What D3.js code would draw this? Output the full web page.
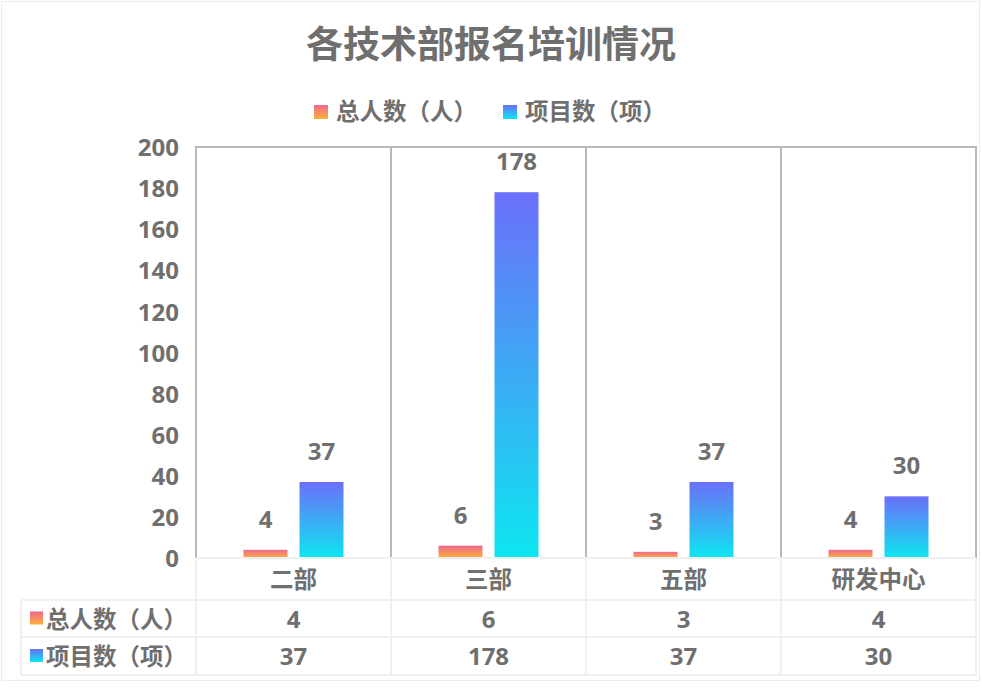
<!DOCTYPE html>
<html>
<head>
<meta charset="utf-8">
<script src="https://cdn.jsdelivr.net/npm/d3@7"></script>
<style>
  html, body { margin: 0; padding: 0; background: #fff; }
  svg text { font-family: "Open Sans", "Noto Sans CJK SC", sans-serif; font-weight: bold; fill: #6f6f6f; }
</style>
</head>
<body>
<div id="chart"></div>
<script>
// chart data
const categories = ['二部', '三部', '五部', '研发中心'];
const seriesNames = ['总人数（人）', '项目数（项）'];
const totalPeople = [4, 6, 3, 4];
const projectCount = [37, 178, 37, 30];
const yTicks = [0, 20, 40, 60, 80, 100, 120, 140, 160, 180, 200];

const seriesValues = [totalPeople, projectCount];
const gradients = [
    { id: 'gradPeople', top: '#ef678e', bottom: '#fbb03b' },
    { id: 'gradProject', top: '#6b6ff9', bottom: '#0de6f0' }
];

const width = 982, height = 699;
const plot = { left: 196, right: 976, top: 147, bottom: 558 };
const rowH = [42, 37, 38];
const tableLeft = 21;
const textColor = '#6f6f6f';
const fontSize = '23.5px';

const svg = d3.select('#chart')
    .append('svg')
    .attr('width', width)
    .attr('height', height);

// gradients
const defs = svg.append('defs');
gradients.forEach(g => {
    const lg = defs.append('linearGradient')
        .attr('id', g.id)
        .attr('x1', 0).attr('y1', 0)
        .attr('x2', 0).attr('y2', 1);
    lg.append('stop').attr('offset', '0%').attr('stop-color', g.top);
    lg.append('stop').attr('offset', '100%').attr('stop-color', g.bottom);
});

// outer frame
svg.append('rect')
    .attr('x', 1.5).attr('y', 1.5)
    .attr('width', 978).attr('height', 679)
    .attr('fill', 'none')
    .attr('stroke', '#ececec');

// title
svg.append('text')
    .attr('x', 491)
    .attr('y', 58)
    .attr('text-anchor', 'middle')
    .style('font-size', '37px')
    .text('各技术部报名培训情况');

// scales
const x0 = d3.scaleBand()
    .domain(categories)
    .range([plot.left, plot.right]);

const x1 = d3.scaleBand()
    .domain(seriesNames)
    .range([0, 100])
    .paddingInner(12 / 56);

const y = d3.scaleLinear()
    .domain([0, 200])
    .range([plot.bottom, plot.top]);

// y axis labels
const yAxis = svg.append('g')
    .attr('transform', `translate(${plot.left - 17}, 0)`)
    .call(d3.axisLeft(y).tickValues(yTicks).tickSize(0).tickPadding(0));
yAxis.select('.domain').remove();
yAxis.selectAll('text')
    .attr('fill', textColor)
    .attr('dy', '0.36em')
    .style('font-size', '24px')
    .style('font-family', '"Open Sans", "Noto Sans CJK SC", sans-serif');

// plot frame and category separators
const frame = svg.append('g')
    .attr('stroke', '#b8b8b8')
    .attr('stroke-width', 2)
    .attr('fill', 'none');
frame.append('path')
    .attr('d', `M${plot.left},${plot.bottom}V${plot.top}H${plot.right}V${plot.bottom}`);
categories.slice(1).forEach(c => {
    frame.append('line')
        .attr('x1', x0(c)).attr('x2', x0(c))
        .attr('y1', plot.top).attr('y2', plot.bottom);
});

// bars
seriesNames.forEach((name, si) => {
    const g = svg.append('g');
    const bandOffset = (x0.bandwidth() - 100) / 2;
    g.selectAll('rect')
        .data(seriesValues[si])
        .enter()
        .append('rect')
        .attr('x', (d, i) => x0(categories[i]) + bandOffset + x1(name))
        .attr('y', d => y(d))
        .attr('width', x1.bandwidth())
        .attr('height', d => y(0) - y(d))
        .attr('fill', `url(#${gradients[si].id})`);

    g.selectAll('text')
        .data(seriesValues[si])
        .enter()
        .append('text')
        .attr('x', (d, i) => x0(categories[i]) + bandOffset + x1(name) + x1.bandwidth() / 2)
        .attr('y', d => y(d) - 22)
        .attr('text-anchor', 'middle')
        .style('font-size', '24px')
        .text(d => d);
});

// legend (top)
const legend = svg.append('g');
let lx = 0;
seriesNames.forEach((name, si) => {
    const item = legend.append('g').attr('transform', `translate(${lx}, 0)`);
    item.append('rect')
        .attr('x', 0).attr('y', -15)
        .attr('width', 14).attr('height', 14)
        .attr('fill', `url(#${gradients[si].id})`);
    const t = item.append('text')
        .attr('x', 22)
        .attr('y', 0)
        .style('font-size', fontSize)
        .text(name);
    lx += 22 + t.node().getComputedTextLength() + 26;
});
const legendW = lx - 26;
legend.attr('transform', `translate(${490 - legendW / 2}, 120)`);

// data table
const table = svg.append('g')
    .attr('stroke', '#f0f0f0')
    .attr('stroke-width', 2)
    .attr('fill', 'none');
const rowY = [plot.bottom, plot.bottom + rowH[0], plot.bottom + rowH[0] + rowH[1], plot.bottom + rowH[0] + rowH[1] + rowH[2]];

table.append('line')
    .attr('x1', plot.left).attr('x2', plot.right)
    .attr('y1', rowY[0]).attr('y2', rowY[0]);
[1, 2, 3].forEach(r => {
    table.append('line')
        .attr('x1', tableLeft).attr('x2', plot.right)
        .attr('y1', rowY[r]).attr('y2', rowY[r]);
});
table.append('line')
    .attr('x1', tableLeft).attr('x2', tableLeft)
    .attr('y1', rowY[1]).attr('y2', rowY[3]);
categories.concat(['end']).forEach((c, i) => {
    const xx = i < categories.length ? x0(c) : plot.right;
    table.append('line')
        .attr('x1', xx).attr('x2', xx)
        .attr('y1', rowY[0]).attr('y2', rowY[3]);
});

// category labels
svg.append('g').selectAll('text')
    .data(categories)
    .enter()
    .append('text')
    .attr('x', d => x0(d) + x0.bandwidth() / 2)
    .attr('y', (rowY[0] + rowY[1]) / 2 + 9)
    .attr('text-anchor', 'middle')
    .style('font-size', fontSize)
    .text(d => d);

// table rows
seriesNames.forEach((name, si) => {
    const cy = (rowY[si + 1] + rowY[si + 2]) / 2;
    svg.append('rect')
        .attr('x', 30).attr('y', cy - 7)
        .attr('width', 13).attr('height', 13)
        .attr('fill', `url(#${gradients[si].id})`);
    svg.append('text')
        .attr('x', 46)
        .attr('y', cy + 9)
        .style('font-size', fontSize)
        .text(name);
    svg.append('g').selectAll('text')
        .data(seriesValues[si])
        .enter()
        .append('text')
        .attr('x', (d, i) => x0(categories[i]) + x0.bandwidth() / 2)
        .attr('y', cy + 9)
        .attr('text-anchor', 'middle')
        .style('font-size', '24px')
        .text(d => d);
});
</script>
</body>
</html>
